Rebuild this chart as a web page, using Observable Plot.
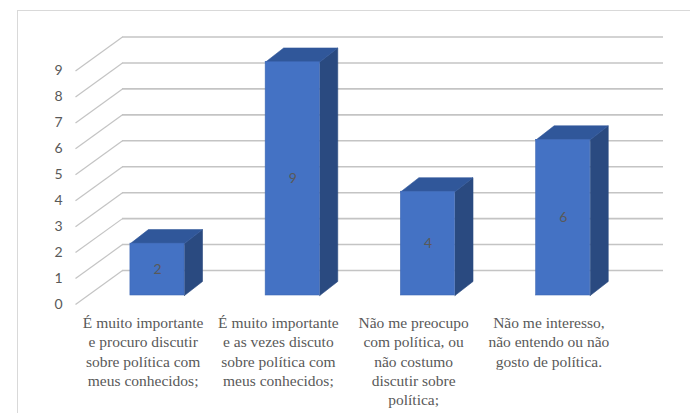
<!DOCTYPE html>
<html>
<head>
<meta charset="utf-8">
<script src="https://cdn.jsdelivr.net/npm/d3@7"></script>
<script src="https://cdn.jsdelivr.net/npm/@observablehq/plot@0.6"></script>
<style>
  html, body { margin: 0; padding: 0; background: #ffffff; }
  #wrap { position: relative; width: 690px; height: 413px; overflow: hidden; }
  #border { position: absolute; left: 17px; top: 10px; width: 700px; height: 420px;
            border-left: 1px solid #d9d9d9; border-top: 1px solid #d9d9d9; pointer-events: none; }
  #chart svg g.catlabels, #chart svg g.catlabels text, #chart svg g.catlabels tspan {
    font-family: "Liberation Serif", "Times New Roman", Tinos, "DejaVu Serif", serif !important;
  }
</style>
</head>
<body>
<div id="wrap"><div id="chart"></div><div id="border"></div></div>
<script>
// ---- data ----
const categories = [
  "É muito importante\ne procuro discutir\nsobre política com\nmeus conhecidos;",
  "É muito importante\ne as vezes discuto\nsobre política com\nmeus conhecidos;",
  "Não me preocupo\ncom política, ou\nnão costumo\ndiscutir sobre\npolítica;",
  "Não me interesso,\nnão entendo ou não\ngosto de política."
];
const values = [2, 9, 4, 6];
const yTicks = [0, 1, 2, 3, 4, 5, 6, 7, 8, 9];

// ---- oblique 3D geometry (in data units, style only) ----
const WALL_DX = 0.3475, WALL_DY = 1.31;     // depth of back wall
const BAR_W = 0.40;                          // bar front width (band units)
const BAR_SX = 0.106, BAR_SY = 0.347;        // bar front-face offset from front plane
const BAR_DX = 0.133, BAR_DY = 0.54;         // bar depth

const bars = values.map((v, i) => {
  const cx = i + 0.5 + BAR_SX;
  return {i, v, xl: cx - BAR_W / 2, xr: cx + BAR_W / 2, cx, b: BAR_SY, t: v + BAR_SY};
});
const topFaces = bars.flatMap(d => [
  {id: d.i, x: d.xl, y: d.t},
  {id: d.i, x: d.xr, y: d.t},
  {id: d.i, x: d.xr + BAR_DX, y: d.t + BAR_DY},
  {id: d.i, x: d.xl + BAR_DX, y: d.t + BAR_DY},
  {id: d.i, x: d.xl, y: d.t}
]);
const sideFaces = bars.flatMap(d => [
  {id: d.i, x: d.xr, y: d.b},
  {id: d.i, x: d.xr + BAR_DX, y: d.b + BAR_DY},
  {id: d.i, x: d.xr + BAR_DX, y: d.t + BAR_DY},
  {id: d.i, x: d.xr, y: d.t},
  {id: d.i, x: d.xr, y: d.b}
]);

const grey = "#595959";
const sans = "Lato, 'Open Sans', 'Liberation Sans', sans-serif";
const serif = "Liberation Serif";

const chart = Plot.plot({
  width: 690,
  height: 413,
  style: {background: "#ffffff"},
  x: {type: "linear", domain: [0, 4], range: [75, 616], axis: null},
  y: {type: "linear", domain: [0, 9], range: [304, 70.5], axis: null},
  marks: [
    // back wall gridlines
    Plot.ruleY(yTicks, {y: d => d + WALL_DY, x1: WALL_DX, x2: 4 + WALL_DX, stroke: "#c4c4c4", strokeWidth: 1.6}),
    // side wall diagonals
    Plot.link(yTicks, {x1: 0, y1: d => d, x2: WALL_DX, y2: d => d + WALL_DY, stroke: "#c4c4c4", strokeWidth: 1.2}),
    // y tick labels
    Plot.text(yTicks, {x: 0, y: d => d, text: d => String(d), dx: -13, textAnchor: "end", fontSize: 14, fill: grey, fontFamily: sans}),
    // bars
    Plot.line(sideFaces, {x: "x", y: "y", z: "id", fill: "#2a4a80", stroke: "#2a4a80", strokeWidth: 0.6, curve: "linear"}),
    Plot.line(topFaces, {x: "x", y: "y", z: "id", fill: "#30579a", stroke: "#30579a", strokeWidth: 0.6, curve: "linear"}),
    Plot.rect(bars, {x1: "xl", x2: "xr", y1: "b", y2: "t", fill: "#4472c4", stroke: "#3e68b4", strokeWidth: 0.6}),
    // data labels
    Plot.text(bars, {x: "cx", y: d => (d.b + d.t) / 2, text: d => String(d.v), fontSize: 14, fill: grey, fontFamily: sans}),
    // category labels
    Plot.text(categories, {x: (d, i) => i + 0.5, y: 0, text: d => d, lineAnchor: "top", dy: 10, fontSize: 15.5, lineHeight: 1.24, fill: grey, fontFamily: serif})
  ]
});
const textGroups = chart.querySelectorAll('g[aria-label="text"]');
if (textGroups.length) textGroups[textGroups.length - 1].classList.add("catlabels");
document.getElementById("chart").appendChild(chart);
</script>
</body>
</html>
